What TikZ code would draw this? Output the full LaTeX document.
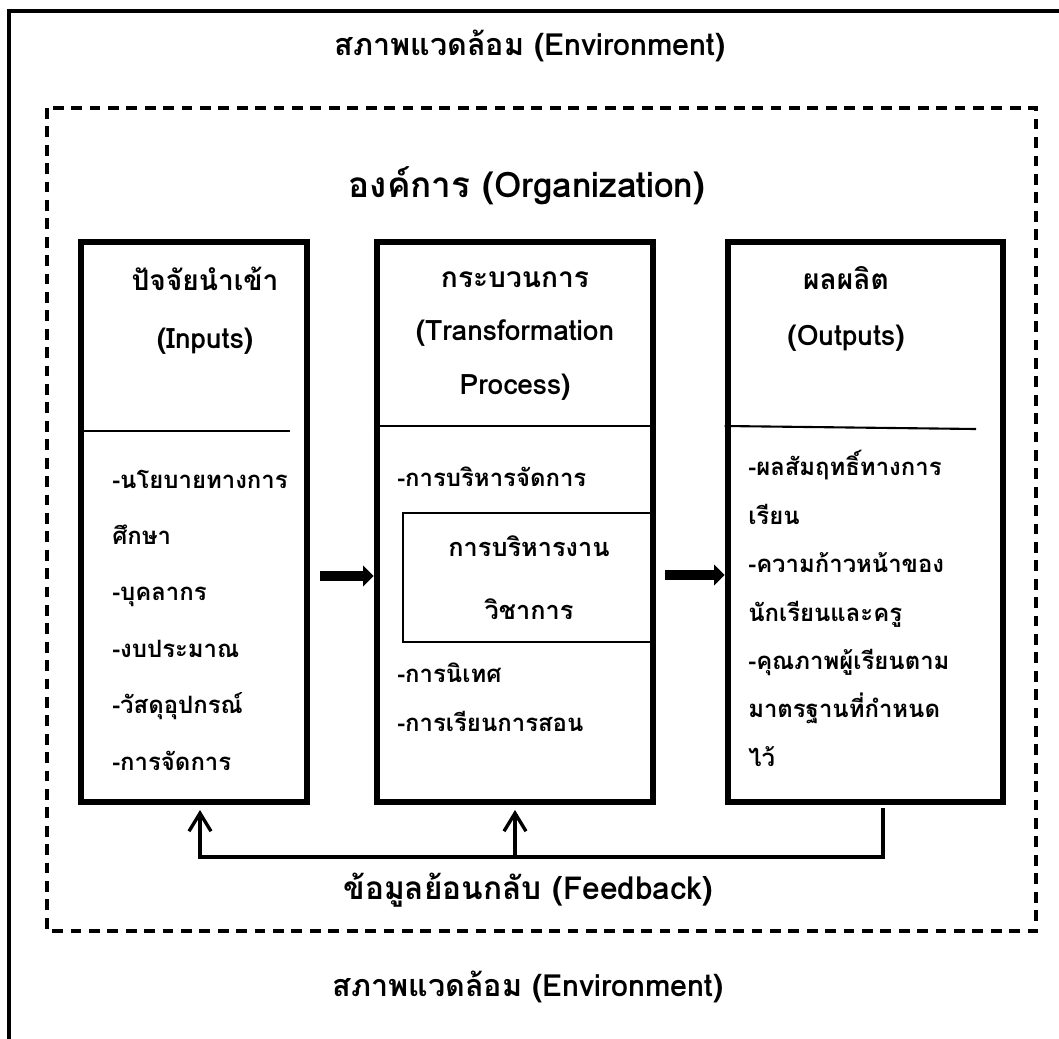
\documentclass[tikz,border=0pt]{standalone}
\usepackage{fontspec}
\setmainfont[Script=Thai]{Loma}
\usetikzlibrary{positioning,arrows.meta}

\begin{document}
\begin{tikzpicture}[x=0.025cm, y=-0.025cm, >={Straight Barb[length=4.5mm,width=5.5mm]},
	mainbox/.style={draw, line width=4.8pt, minimum width=#1, minimum height=14cm, inner sep=0pt},
	titletext/.style={font=\bfseries\fontsize{#1}{24}\selectfont},
	headtext/.style={align=center, font=\bfseries\fontsize{20}{#1}\selectfont},
	listtext/.style={anchor=west, align=left, inner sep=0pt, font=\bfseries\fontsize{17}{#1}\selectfont},
	divider/.style={line width=1.5pt},
	bigarrow/.style={line width=6.5pt, -{Triangle[length=2.6mm,width=5mm]}},
	fbline/.style={line width=2.4pt}]
	\clip (0,0) rectangle (1059,1039);

	\draw[line width=2.4pt] (9,11) rectangle (1090,1070);
	\draw[line width=2.3pt, dash pattern=on 0.27cm off 0.19cm] (47,108) rectangle (1036,931);

	\node[titletext=21.7] (envtop) at (530,46) {สภาพแวดล้อม (Environment)};
	\node[titletext=25] (org) at (527,186) {องค์การ (Organization)};

	\node[mainbox=5.65cm] (inbox) at (194,522) {};
	\node[mainbox=6.9cm] (procbox) at (515,522) {};
	\node[mainbox=6.875cm] (outbox) at (865.5,522) {};

	\node[headtext=41pt] (inhead) at (205,311) {ปัจจัยนำเข้า\\(Inputs)};
	\node[headtext=38pt] (prochead) at (515,336) {กระบวนการ\\(Transformation\\Process)};
	\node[headtext=40pt] (outhead) at (846,309) {ผลผลิต\\(Outputs)};

	\draw[divider] (inbox.west |- 0,431) -- (290,431);
	\draw[divider] (procbox.west |- 0,426) -- (procbox.east |- 0,426);
	\draw[divider] (outbox.west |- 0,426) -- (976,429);

	\node[listtext=40.1pt] (inlist) at (112,620) {-นโยบายทางการ\\ศึกษา\\-บุคลากร\\-งบประมาณ\\-วัสดุอุปกรณ์\\-การจัดการ};
	\node[listtext=34pt] (proclist) at (397,477) {-การบริหารจัดการ};
	\node[draw, line width=1.5pt, minimum width=6.3cm, minimum height=3.225cm, align=center, font=\bfseries\fontsize{18}{45}\selectfont] (acadbox) at (529,577.5) {การบริหารงาน\\วิชาการ};
	\node[listtext=34.7pt] (proclist2) at (397,697.5) {-การนิเทศ\\-การเรียนการสอน};
	\node[listtext=34.4pt] (outlist) at (748,608.5) {-ผลสัมฤทธิ์ทางการ\\เรียน\\-ความก้าวหน้าของ\\นักเรียนและครู\\-คุณภาพผู้เรียนตาม\\มาตรฐานที่กำหนด\\ไว้};

	\coordinate (a1) at (320,576);
	\coordinate (a2) at (665,575);
	\draw[bigarrow] (a1) -- (a1 -| procbox.west);
	\draw[bigarrow] (a2) -- (a2 -| outbox.west);

	\coordinate (fbR) at (883,808);
	\coordinate (fbL) at (200,857);
	\draw[fbline, ->] (fbR) |- (fbL) -- ++(0,-47);
	\draw[fbline, ->] (fbL -| procbox) -- ++(0,-47);

	\node[titletext=22.5] (fbtext) at (528,890) {ข้อมูลย้อนกลับ (Feedback)};
	\node[titletext=21.7] (envbottom) at (528,987) {สภาพแวดล้อม (Environment)};
\end{tikzpicture}
\end{document}
